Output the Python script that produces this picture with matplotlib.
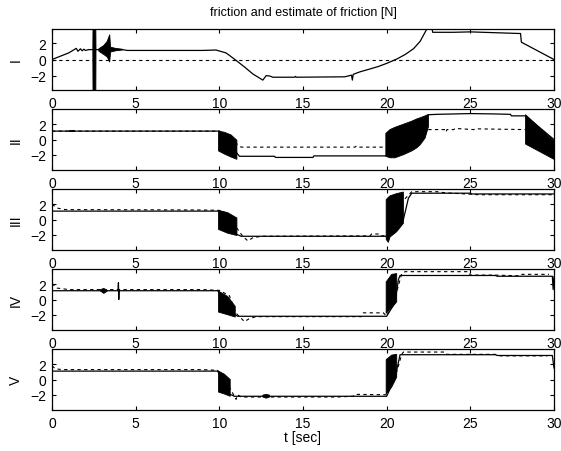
import numpy as np
import matplotlib
matplotlib.use("Agg")
from matplotlib import pyplot as plt

plt.rcParams['font.family'] = ['Liberation Sans', 'DejaVu Sans']

nan = np.nan

labels = ["I", "II", "III", "IV", "V"]
x_ticks = [0, 5, 10, 15, 20, 25, 30]
y_ticks = [-2, 0, 2]
y_lims = [3.7, 4.0, 4.0, 4.0, 4.0]

# I: estimate (solid), friction (dashed), oscillating parts (black bands)
t_est_1 = [0, 0.5, 1.0, 1.45, 1.55, 1.7, 1.8, 1.9, 2.0, 2.2, 2.7, 4.2, 4.5, 9.0, 9.8, 10.4,
           10.9, 11.5, 12.0, 12.6, 12.8, 13.0, 13.2, 14.5, 14.55, 14.6, 17.5, 17.8, 17.9,
           17.95, 18.0, 18.4, 19.0, 19.5, 20.0, 20.6, 21.1, 21.6, 22.0, 22.4, 22.7, 22.75,
           24.0, 25.0, 26.5, 28.0, 28.05, 30.0]
v_est_1 = [0, 0.4, 0.8, 1.35, 1.0, 1.3, 1.05, 1.25, 1.1, 1.2, 1.2, 1.2, 1.1, 1.1, 1.15, 0.8,
           0.05, -0.9, -1.75, -2.5, -1.95, -2.0, -2.15, -2.15, -2.05, -2.15, -2.1, -1.95,
           -1.9, -2.5, -1.8, -1.5, -1.15, -0.85, -0.47, 0.05, 0.6, 1.3, 2.2, 3.7, 3.9, 3.3,
           3.3, 3.35, 3.25, 3.15, 2.1, 0.0]
t_fric_1 = [0, 30]
v_fric_1 = [0, 0]
t_band_1 = [2.44, 2.45, 2.62, 2.63, nan, 2.8, 3.1, 3.3, 3.45, 3.5, 3.8, 4.2]
lo_band_1 = [1.2, -3.8, -3.8, 1.2, nan, 1.0, 0.6, 0.3, -0.3, 0.9, 1.05, 1.15]
hi_band_1 = [1.2, 3.8, 3.8, 1.2, nan, 1.3, 1.7, 2.2, 3.0, 1.5, 1.35, 1.25]

# II
t_est_2 = [0, 10.0, 11.2, 13.3, 13.35, 15.6, 15.65, 20.0, 22.5, 23.0, 25.0, 26.5, 27.4,
           27.45, 28.3, 30.0]
v_est_2 = [1.1, 1.1, -2.2, -2.2, -2.35, -2.35, -2.15, -2.15, 3.25, 3.3, 3.4, 3.35, 3.3,
           3.1, 3.1, 0.0]
t_fric_2 = [0, 10.0, 11.0, 11.3, 18.1, 18.2, 18.3, 20.0, 20.3, 22.5, 23.5, 23.55, 23.6,
            24.0, 24.1, 25.2, 25.3, 28.3]
v_fric_2 = [1.1, 1.1, -0.5, -1.0, -1.0, -0.85, -1.0, -1.0, 1.0, 1.3, 1.3, 1.0, 1.3, 1.3,
            1.45, 1.3, 1.4, 1.3]
t_band_2 = [1.0, 1.3, nan, 9.95, 10.3, 10.7, 11.05, nan, 19.95, 20.2, 20.5, 21.0, 21.5,
            21.8, 22.0, 22.3, 22.5, nan, 28.3, 30.0]
lo_band_2 = [1.05, 1.05, nan, -1.5, -1.9, -2.3, -2.6, nan, -2.2, -2.4, -2.4, -2.0, -1.5,
             -1.1, -0.7, 0.2, 1.7, nan, -0.6, -2.6]
hi_band_2 = [1.25, 1.25, nan, 1.1, 0.95, 0.6, -0.1, nan, 0.8, 1.3, 1.6, 2.0, 2.4, 2.7,
             2.85, 3.1, 3.3, nan, 3.25, -0.2]

# III
t_est_3 = [0, 10.0, 11.0, 11.3, 20.0, 21.0, 21.3, 21.5, 25.0, 25.1, 30.0]
v_est_3 = [1.1, 1.1, -1.9, -2.2, -2.2, 0.0, 2.8, 3.45, 3.45, 3.35, 3.35]
t_fric_3 = [0, 0.3, 0.8, 9.0, 10.0, 10.5, 11.0, 11.4, 11.7, 12.0, 12.5, 19.0, 19.1, 19.6,
            19.7, 20.0, 21.0, 21.5, 23.0, 23.5, 25.5, 30.0]
v_fric_3 = [2.0, 1.5, 1.3, 1.25, 1.2, 0.2, -1.0, -2.2, -2.8, -2.4, -2.2, -2.15, -1.9, -1.9,
            -2.15, -2.1, 2.5, 3.65, 3.65, 3.5, 3.25, 3.25]
t_band_3 = [9.95, 10.5, 11.05, nan, 19.97, 20.1, 20.2, 20.6, 21.0]
lo_band_3 = [-1.3, -1.8, -2.1, nan, -2.6, -3.0, -2.3, -1.6, -0.5]
hi_band_3 = [1.2, 0.9, 0.2, nan, 2.6, 2.9, 3.1, 3.4, 3.6]

# IV
t_est_4 = [0, 3.95, 3.97, 3.99, 4.01, 9.9, 10.95, 11.1, 20.0, 20.5, 20.7, 20.8, 26.5,
           26.6, 29.9, 29.95, 30.0]
v_est_4 = [1.15, 1.15, 2.2, 0.0, 1.15, 1.15, -2.0, -2.2, -2.2, -0.4, 2.6, 3.15, 3.15,
           3.05, 3.05, 1.3, 3.0]
t_fric_4 = [0, 0.3, 1.0, 9.0, 10.0, 10.6, 11.0, 11.5, 11.8, 12.2, 18.5, 18.6, 19.8, 20.0,
            20.6, 20.9, 21.1, 24.9, 25.0, 26.5, 28.0, 28.1, 29.7]
v_fric_4 = [2.1, 1.5, 1.3, 1.3, 1.2, 0.5, -1.8, -2.9, -2.5, -2.25, -2.25, -1.75, -1.75,
            -2.2, 1.0, 3.4, 3.65, 3.65, 3.2, 3.2, 3.1, 3.3, 3.3]
t_band_4 = [2.9, 3.1, 3.3, nan, 9.95, 10.5, 10.95, nan, 19.97, 20.3, 20.6]
lo_band_4 = [1.1, 0.8, 1.1, nan, -1.65, -2.0, -2.3, nan, -1.8, -1.1, -0.3]
hi_band_4 = [1.3, 1.45, 1.2, nan, 1.1, 0.4, -0.9, nan, 2.3, 3.3, 3.4]

# V
t_est_5 = [0, 9.9, 10.6, 10.9, 20.0, 20.5, 20.8, 26.5, 26.6, 29.9, 30.0]
v_est_5 = [1.1, 1.1, -1.9, -2.2, -2.2, 0.2, 3.25, 3.25, 3.15, 3.15, 1.5]
t_fric_5 = [0, 0.2, 0.6, 9.0, 9.9, 10.6, 11.0, 11.1, 11.3, 11.6, 17.0, 18.0, 18.1, 20.0,
            20.6, 20.9, 21.0, 23.5, 23.6, 26.5, 26.8, 29.6]
v_fric_5 = [1.8, 1.4, 1.3, 1.3, 1.2, -1.0, -2.6, -2.0, -2.3, -2.3, -2.3, -2.2, -1.95,
            -2.0, 1.0, 3.3, 3.6, 3.6, 3.3, 3.3, 3.1, 3.1]
t_band_5 = [9.95, 10.3, 10.65, nan, 12.6, 12.8, 13.0, nan, 19.97, 20.3, 20.6]
lo_band_5 = [-1.65, -1.9, -2.2, nan, -2.3, -2.45, -2.3, nan, -1.9, -1.0, 0.3]
hi_band_5 = [1.1, 0.7, 0.0, nan, -2.05, -1.95, -2.05, nan, 2.6, 3.2, 3.3]

t_est = [t_est_1, t_est_2, t_est_3, t_est_4, t_est_5]
v_est = [v_est_1, v_est_2, v_est_3, v_est_4, v_est_5]
t_fric = [t_fric_1, t_fric_2, t_fric_3, t_fric_4, t_fric_5]
v_fric = [v_fric_1, v_fric_2, v_fric_3, v_fric_4, v_fric_5]
t_band = [t_band_1, t_band_2, t_band_3, t_band_4, t_band_5]
lo_band = [lo_band_1, lo_band_2, lo_band_3, lo_band_4, lo_band_5]
hi_band = [hi_band_1, hi_band_2, hi_band_3, hi_band_4, hi_band_5]

W, H = 561, 452
fig = plt.figure(figsize=(W / 100, H / 100), dpi=100)

left, right = 52, 554
tops = [30, 110, 190, 270, 350]
ax_h = 61

for i in range(5):
    ax = fig.add_axes([left / W, 1 - (tops[i] + ax_h) / H, (right - left) / W, ax_h / H])
    ax.fill_between(np.array(t_band[i]), np.array(lo_band[i]), np.array(hi_band[i]),
                    color='black', linewidth=0.6, edgecolor='black')
    ax.plot(t_fric[i], v_fric[i], color='black', linewidth=0.8, linestyle=(0, (3, 3)))
    ax.plot(t_est[i], v_est[i], color='black', linewidth=0.9)
    ax.set_xlim(0, 30)
    ax.set_ylim(-y_lims[i], y_lims[i])
    ax.set_xticks(x_ticks)
    ax.set_yticks(y_ticks)
    ax.tick_params(direction='in', top=True, right=True, length=3, width=0.8,
                   labelsize=10, pad=4)
    for s in ax.spines.values():
        s.set_linewidth(0.9)
    fig.text(16 / W, 1 - (tops[i] + ax_h / 2) / H, labels[i], rotation=90,
             ha='center', va='center', fontsize=10)

fig.text((left + right) / 2 / W, 1 - 13 / H, "friction and estimate of friction [N]",
         ha='center', va='center', fontsize=9)
fig.text((left + right) / 2 / W, 1 - 438 / H, "t [sec]", ha='center', va='center', fontsize=10)

fig.savefig("out.png", dpi=100)
